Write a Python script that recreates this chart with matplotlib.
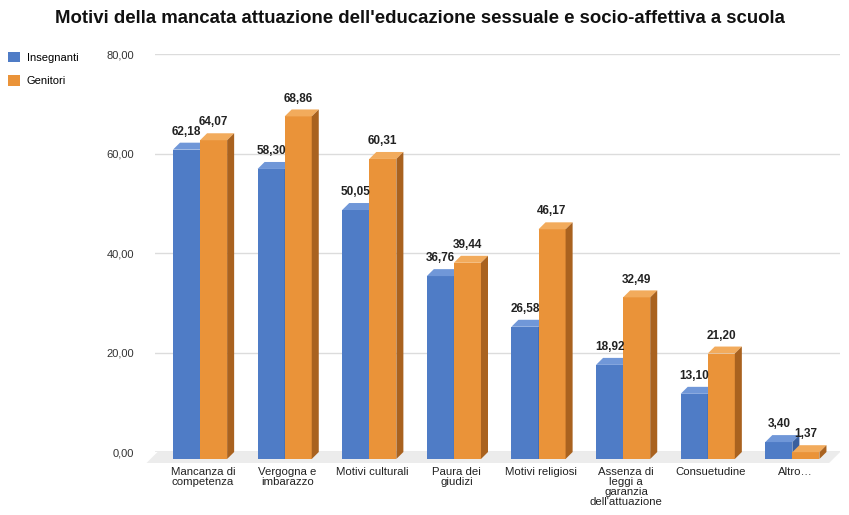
import matplotlib
matplotlib.use("Agg")
import matplotlib.pyplot as plt
from matplotlib.patches import Polygon, Rectangle

plt.rcParams['font.family'] = ['Liberation Sans', 'DejaVu Sans']

title = "Motivi della mancata attuazione dell'educazione sessuale e socio-affettiva a scuola"
categories = ["Mancanza di\ncompetenza", "Vergogna e\nimbarazzo", "Motivi culturali",
              "Paura dei\ngiudizi", "Motivi religiosi",
              "Assenza di\nleggi a\ngaranzia\ndell'attuazione", "Consuetudine", "Altro…"]
insegnanti = [62.18, 58.30, 50.05, 36.76, 26.58, 18.92, 13.10, 3.40]
genitori = [64.07, 68.86, 60.31, 39.44, 46.17, 32.49, 21.20, 1.37]
series_names = ["Insegnanti", "Genitori"]
yticks = [0, 20, 40, 60, 80]

# face colours: front, top, side
blue = ("#4f7cc6", "#7097d8", "#3a5f9e")
orange = ("#ea9339", "#f2ab5c", "#a9621f")

fig = plt.figure(figsize=(8.49, 5.15), dpi=100)
ax = fig.add_axes([0.1826, 0.1223, 0.807, 0.7728])
ax.set_xlim(-0.567, 7.53)
ax.set_ylim(0, 80)

# depth of the pseudo-3D extrusion, in data units
dx, dy = 0.083, 1.4
bw = 0.32
start = -0.355

# floor
fdx, fdy = dx * 2.2 / 1.4, 2.2
x0, x1 = ax.get_xlim()
ax.add_patch(Polygon([(x0 + 0.03, 0), (x1, 0), (x1 - fdx, -fdy), (x0 + 0.03 - fdx, -fdy)],
                     closed=True, facecolor="#ececec", edgecolor="none",
                     clip_on=False, zorder=0.5))

for t in yticks:
    ax.axhline(t, color="#9a9a9a" if t == 0 else "#dcdcdc", lw=1.0, zorder=1)


def draw_bar(xl, h, cols):
    xr = xl + bw
    front, top, side = cols
    ax.add_patch(Rectangle((xl, -dy), bw, h, facecolor=front, edgecolor="none",
                           clip_on=False, zorder=3))
    ax.add_patch(Polygon([(xl, h - dy), (xr, h - dy), (xr + dx, h), (xl + dx, h)],
                         closed=True, facecolor=top, edgecolor="none",
                         clip_on=False, zorder=3))
    ax.add_patch(Polygon([(xr, -dy), (xr + dx, 0), (xr + dx, h), (xr, h - dy)],
                         closed=True, facecolor=side, edgecolor="none",
                         clip_on=False, zorder=3))
    ax.annotate(f"{h:.2f}".replace(".", ","), (xl + bw / 2, h), xytext=(0, 3.5),
                textcoords="offset points", ha="center", va="bottom",
                fontsize=8.5, fontweight="bold", color="#222222", zorder=5)


for i, (a, b) in enumerate(zip(insegnanti, genitori)):
    draw_bar(i + start, a, blue)
    draw_bar(i + start + bw, b, orange)

ax.set_yticks(yticks)
ax.set_yticklabels([f"{t:.2f}".replace(".", ",") for t in yticks], fontsize=8, color="#333333")
ax.set_xticks(range(len(categories)))
ax.set_xticklabels(categories, fontsize=8.2, color="#222222", linespacing=1.0)
ax.tick_params(axis="y", length=0, pad=15)
ax.tick_params(axis="x", length=0, pad=10.5)
for s in ax.spines.values():
    s.set_visible(False)

fig.text(0.4945, 0.965, title, ha="center", va="center", fontsize=13.4,
         fontweight="bold", color="#111111")

handles = [Rectangle((0, 0), 1, 1, facecolor=blue[0]), Rectangle((0, 0), 1, 1, facecolor=orange[0])]
fig.legend(handles, series_names, loc="upper left", bbox_to_anchor=(0.0, 0.915),
           frameon=False, fontsize=8, handlelength=1.1, handleheight=1.1,
           handletextpad=0.6, labelspacing=1.1, borderaxespad=0.3)

fig.savefig("out.png", dpi=100)
